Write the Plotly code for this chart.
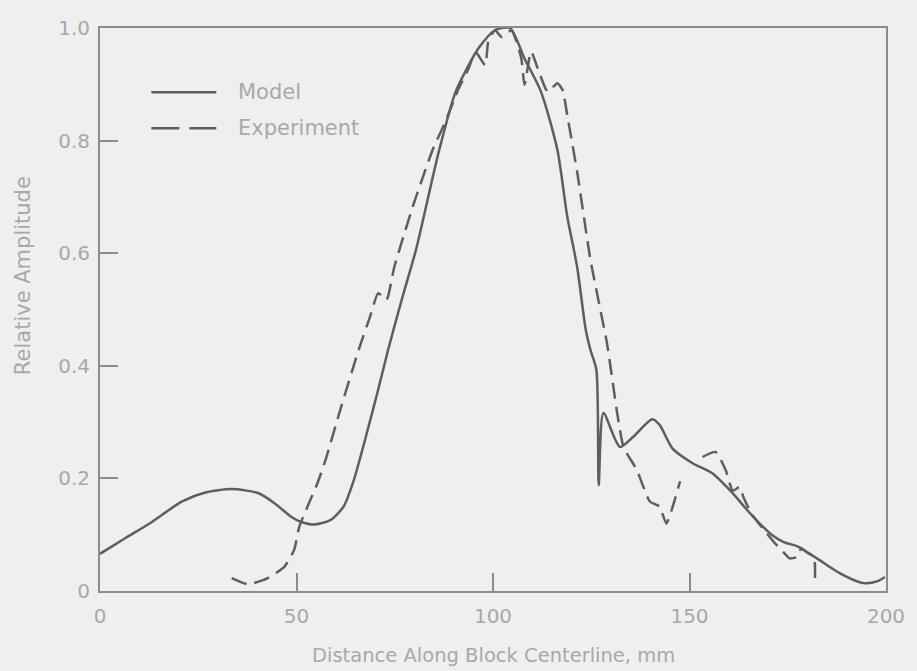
import plotly.graph_objects as go

# Model prediction along the block centerline
model_x = [0, 6.7, 12.6, 20.9, 26.8, 33.5, 40.2, 44.4, 48.6, 51.1, 54.4, 58.6,
           62.0, 64.5, 67.5, 70.5, 73.3, 77.0, 80.4, 86.3, 90.5, 93.5, 96.3, 100.5,
           104.3, 108.0, 112.2, 116.4, 118.9, 121.4, 123.6, 124.8, 126.3, 126.9,
           128.1, 132.3, 135.7, 140.5, 142.4, 145.7, 150.8, 155.8, 160.8, 165.8,
           170.9, 174.0, 177.6, 182.6, 188.4, 194.3, 197.7, 199.7]
model_y = [0.066, 0.095, 0.120, 0.159, 0.175, 0.181, 0.174, 0.156, 0.132, 0.123,
           0.118, 0.126, 0.150, 0.195, 0.270, 0.350, 0.428, 0.523, 0.606, 0.783,
           0.887, 0.930, 0.964, 0.996, 1.000, 0.946, 0.887, 0.783, 0.665, 0.576,
           0.464, 0.428, 0.393, 0.188, 0.316, 0.256, 0.274, 0.305, 0.295, 0.253,
           0.227, 0.209, 0.175, 0.135, 0.100, 0.087, 0.079, 0.057, 0.031, 0.014,
           0.017, 0.025]

# Measured amplitude (a gap separates the two recorded segments)
exp_x = [33.5, 37.7, 42.7, 46.9, 49.4, 50.7, 52.8, 55.3, 57.4, 61.1, 65.8, 68.7,
         70.8, 72.9, 74.9, 79.6, 84.6, 87.9, 91.3, 93.8, 95.5, 98.0, 98.8, 100.5,
         102.2, 104.7, 107.2, 108.0, 109.7, 111.4, 113.9, 116.4, 117.7, 118.9,
         121.4, 124.8, 129.0, 131.6, 133.2, 136.6, 139.9, 142.4, 144.1, 147.6,
         None, 153.3, 156.6, 159.2, 161.0, 162.8, 163.8, 166.0, 169.0, 171.7,
         173.4, 175.5, 177.6, 178.4, 180.0, 181.7, 181.9]
exp_y = [0.023, 0.012, 0.023, 0.043, 0.073, 0.114, 0.150, 0.191, 0.233, 0.321,
         0.428, 0.487, 0.529, 0.517, 0.576, 0.683, 0.783, 0.834, 0.893, 0.928,
         0.958, 0.934, 0.976, 0.996, 0.984, 0.996, 0.946, 0.899, 0.958, 0.928,
         0.887, 0.902, 0.890, 0.845, 0.745, 0.588, 0.440, 0.316, 0.256, 0.215,
         0.159, 0.150, 0.120, 0.195, None, 0.238, 0.247, 0.215, 0.178, 0.185,
         0.165, 0.135, 0.108, 0.085, 0.073, 0.058, 0.061, 0.076, 0.068, 0.060,
         0.012]

x_ticks = [0, 50, 100, 150, 200]
x_tick_text = ["0", "50", "100", "150", "200"]
y_ticks = [0, 0.2, 0.4, 0.6, 0.8, 1.0]
y_tick_text = ["0", "0.2", "0.4", "0.6", "0.8", "1.0"]

series_names = ["Model", "Experiment"]

LINE = "#5e5e5e"
AXIS = "#8c8c8c"
TEXT = "#a8a8a8"
BG = "#efefef"
FONT = "DejaVu Sans"
DASH = "16px,8px"

fig = go.Figure()
fig.add_trace(go.Scatter(x=model_x, y=model_y, mode="lines", name=series_names[0],
                         line=dict(color=LINE, width=2.5, shape="spline", smoothing=0.7),
                         showlegend=False))
fig.add_trace(go.Scatter(x=exp_x, y=exp_y, mode="lines", name=series_names[1],
                         line=dict(color=LINE, width=2.5, dash=DASH,
                                   shape="spline", smoothing=0.5),
                         connectgaps=False, showlegend=False))

axis_common = dict(showline=True, linecolor=AXIS, linewidth=2, mirror=True,
                   ticks="inside", ticklen=18, tickwidth=1.5, tickcolor=AXIS,
                   showgrid=False, zeroline=False,
                   tickfont=dict(family=FONT, size=20, color=TEXT))

fig.update_layout(
    width=917, height=671,
    margin=dict(l=100, r=21, t=28, b=80),
    paper_bgcolor=BG, plot_bgcolor=BG,
    xaxis=dict(range=[0, 200], tickvals=x_ticks, ticktext=x_tick_text,
               ticklabelstandoff=6, **axis_common),
    yaxis=dict(range=[0, 1.0], tickvals=y_ticks, ticktext=y_tick_text,
               ticklabelstandoff=4, **axis_common),
)

# Axis titles
fig.add_annotation(text="Distance Along Block Centerline, mm", xref="paper", yref="paper",
                   x=0.5, y=-0.115, showarrow=False, xanchor="center", yanchor="middle",
                   font=dict(family=FONT, size=19.5, color=TEXT))
fig.add_annotation(text="Relative Amplitude", xref="paper", yref="paper",
                   x=-0.098, y=0.561, showarrow=False, textangle=-90,
                   xanchor="center", yanchor="middle",
                   font=dict(family=FONT, size=21, color=TEXT))

# Legend drawn inside the plot area
legend_rows = [(0.886, "solid"), (0.822, "28px,10px")]
for (ly, dash), name in zip(legend_rows, series_names):
    fig.add_shape(type="line", xref="paper", yref="paper", x0=0.0653, x1=0.148,
                  y0=ly, y1=ly, line=dict(color=LINE, width=2.5, dash=dash))
    fig.add_annotation(text=name, xref="paper", yref="paper", x=0.173, y=ly,
                       xanchor="left", yanchor="middle", showarrow=False,
                       font=dict(family=FONT, size=21, color=TEXT))

fig.write_html("out.html")
